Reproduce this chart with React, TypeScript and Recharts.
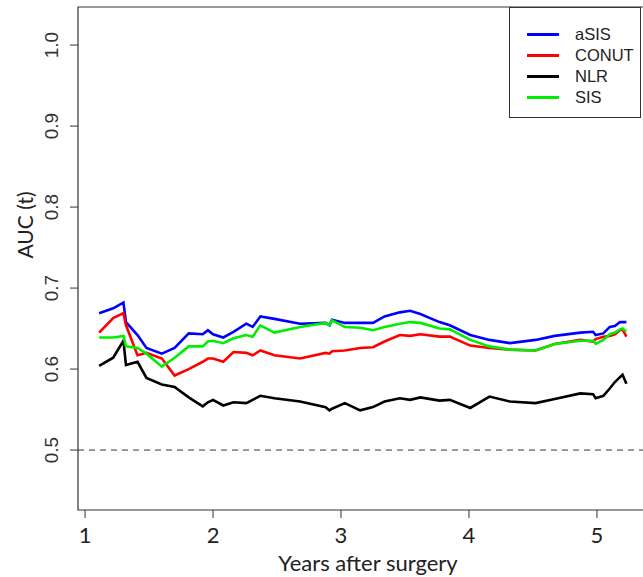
import React from 'react';
import {
  Line,
  LineChart,
  ReferenceArea,
  ReferenceLine,
  XAxis,
  YAxis,
} from 'recharts';

// years after surgery
const T = [
  1.11, 1.22, 1.3, 1.32, 1.41, 1.48, 1.6, 1.7, 1.81, 1.92, 1.96, 2.0, 2.08, 2.16, 2.26,
  2.31, 2.37, 2.48, 2.68, 2.88, 2.91, 2.93, 3.03, 3.15, 3.25, 3.34, 3.46, 3.54, 3.62,
  3.77, 3.85, 4.01, 4.16, 4.32, 4.52, 4.67, 4.87, 4.97, 4.99, 5.05, 5.1, 5.14, 5.18,
  5.2, 5.23,
];

const ASIS = [
  0.669, 0.675, 0.682, 0.658, 0.642, 0.626, 0.619, 0.626, 0.644, 0.643, 0.648, 0.643,
  0.639, 0.646, 0.656, 0.652, 0.665, 0.662, 0.656, 0.657, 0.654, 0.661, 0.657, 0.657,
  0.657, 0.665, 0.67, 0.672, 0.668, 0.658, 0.654, 0.642, 0.636, 0.632, 0.636, 0.641,
  0.645, 0.646, 0.642, 0.644, 0.652, 0.653, 0.658, 0.658, 0.658,
];

const CONUT = [
  0.645, 0.663, 0.669, 0.654, 0.617, 0.62, 0.613, 0.592, 0.6, 0.609, 0.613, 0.613,
  0.609, 0.621, 0.62, 0.617, 0.623, 0.617, 0.613, 0.62, 0.619, 0.622, 0.623, 0.626,
  0.627, 0.634, 0.642, 0.641, 0.643, 0.64, 0.64, 0.629, 0.626, 0.624, 0.623, 0.631,
  0.636, 0.634, 0.637, 0.64, 0.641, 0.643, 0.648, 0.649, 0.64,
];

const NLR = [
  0.604, 0.614, 0.635, 0.605, 0.609, 0.589, 0.581, 0.578, 0.565, 0.554, 0.559, 0.562,
  0.555, 0.559, 0.558, 0.562, 0.567, 0.564, 0.56, 0.553, 0.549, 0.551, 0.558, 0.549,
  0.553, 0.56, 0.564, 0.562, 0.565, 0.561, 0.562, 0.552, 0.566, 0.56, 0.558, 0.563,
  0.57, 0.569, 0.564, 0.567, 0.576, 0.584, 0.59, 0.593, 0.582,
];

const SIS = [
  0.639, 0.639, 0.641, 0.628, 0.626, 0.619, 0.603, 0.614, 0.628, 0.628, 0.634, 0.635,
  0.632, 0.638, 0.642, 0.64, 0.654, 0.645, 0.652, 0.657, 0.654, 0.66, 0.652, 0.651,
  0.648, 0.652, 0.656, 0.658, 0.657, 0.65, 0.649, 0.636, 0.628, 0.624, 0.623, 0.631,
  0.635, 0.635, 0.631, 0.636, 0.643, 0.645, 0.649, 0.65, 0.646,
];

const SERIES = [
  { key: 'aSIS', values: ASIS, color: '#0000ff' },
  { key: 'CONUT', values: CONUT, color: '#ff0000' },
  { key: 'NLR', values: NLR, color: '#000000' },
  { key: 'SIS', values: SIS, color: '#00ee00' },
];

const X_TICKS = [1, 2, 3, 4, 5];
const Y_TICKS = [0.5, 0.6, 0.7, 0.8, 0.9, 1.0];
const X_DOMAIN: [number, number] = [0.945, 5.477];
const Y_DOMAIN: [number, number] = [0.426, 1.047];

const data = T.map((t, i) => {
  const row: Record<string, number> = { t };
  SERIES.forEach((s) => (row[s.key] = s.values[i]));
  return row;
});

const FRAME = '#333';
const HUMANIST = 'Lato, "Open Sans", sans-serif';
const ARIAL = '"Liberation Sans", Arial, sans-serif';

function YTick({ x, y, payload }: any) {
  return (
    <text
      x={x - 2}
      y={y}
      transform={`rotate(-90 ${x - 2} ${y})`}
      textAnchor="middle"
      fontFamily={ARIAL}
      fontSize={19}
      fill="#333"
    >
      {Number(payload.value).toFixed(1)}
    </text>
  );
}

// legend drawn as plain html so it doesn't eat into the plot area
function LegendBox() {
  return (
    <div
      style={{
        position: 'absolute',
        left: 509,
        top: 7,
        width: 132,
        height: 111,
        border: `1px solid ${FRAME}`,
        boxSizing: 'border-box',
        background: '#fff',
        fontFamily: ARIAL,
        fontSize: 16.5,
        color: '#222',
      }}
    >
      {SERIES.map((s, i) => (
        <div
          key={s.key}
          style={{ position: 'absolute', left: 0, top: 16 + i * 21, height: 20, width: '100%' }}
        >
          <div
            style={{
              position: 'absolute',
              left: 17,
              top: 9,
              width: 32,
              height: 2.5,
              background: s.color,
            }}
          />
          <span style={{ position: 'absolute', left: 65, top: 1, lineHeight: '18px' }}>
            {s.key}
          </span>
        </div>
      ))}
    </div>
  );
}

export default function App() {
  return (
    <div
      style={{
        position: 'fixed',
        left: 0,
        top: 0,
        width: 643,
        height: 577,
        overflow: 'hidden',
        background: '#fff',
      }}
    >
      <LineChart
        width={658}
        height={577}
        data={data}
        margin={{ top: 7, right: 0, bottom: 0, left: 0 }}
      >
        <XAxis
          dataKey="t"
          type="number"
          domain={X_DOMAIN}
          ticks={X_TICKS}
          allowDataOverflow
          axisLine={false}
          tickLine={{ stroke: FRAME }}
          tickSize={8}
          tickMargin={9}
          height={67}
          tick={{ fontFamily: HUMANIST, fontSize: 22, fill: '#222' }}
          label={{
            value: 'Years after surgery',
            position: 'insideBottom',
            offset: 6,
            fontFamily: HUMANIST,
            fontSize: 22,
            fill: '#222',
          }}
        />
        <YAxis
          type="number"
          domain={Y_DOMAIN}
          ticks={Y_TICKS}
          allowDataOverflow
          axisLine={false}
          tickLine={{ stroke: FRAME }}
          tickSize={8}
          tickMargin={10}
          width={78}
          tick={<YTick />}
          label={{
            value: 'AUC (t)',
            angle: -90,
            position: 'insideLeft',
            offset: 26,
            fontFamily: HUMANIST,
            fontSize: 21,
            fill: '#222',
          }}
        />
        <ReferenceArea
          x1={X_DOMAIN[0]}
          x2={X_DOMAIN[1]}
          y1={Y_DOMAIN[0]}
          y2={Y_DOMAIN[1]}
          fill="none"
          stroke={FRAME}
          strokeWidth={1.2}
        />
        <ReferenceLine y={0.5} stroke={FRAME} strokeDasharray="6 5" />
        {SERIES.map((s) => (
          <Line
            key={s.key}
            dataKey={s.key}
            name={s.key}
            type="linear"
            stroke={s.color}
            strokeWidth={2.6}
            dot={false}
            isAnimationActive={false}
          />
        ))}
      </LineChart>
      <LegendBox />
    </div>
  );
}
